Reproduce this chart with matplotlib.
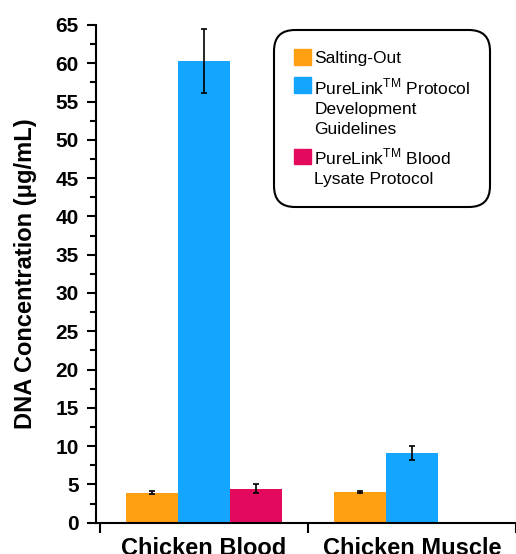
import numpy as np
import matplotlib
matplotlib.use('Agg')
import matplotlib.pyplot as plt
from matplotlib.ticker import MultipleLocator
from matplotlib.patches import Patch, Rectangle
from matplotlib.legend_handler import HandlerPatch

plt.rcParams['font.family'] = ['Liberation Sans', 'DejaVu Sans']
plt.rcParams['mathtext.fontset'] = 'custom'
plt.rcParams['mathtext.rm'] = 'Liberation Sans'

# данные
categories = ['Chicken Blood', 'Chicken Muscle']
series = ['Salting-Out',
          'PureLink$^{\\mathrm{TM}}$ Protocol\nDevelopment\nGuidelines',
          'PureLink$^{\\mathrm{TM}}$ Blood\nLysate Protocol']
salting_out = [3.9, 4.0]
salting_out_err = [0.2, 0.15]
purelink_dev = [60.3, 9.1]
purelink_dev_err = [4.2, 0.95]
purelink_blood = [4.45, np.nan]
purelink_blood_err = [0.55, np.nan]
colors = ['#FF9F12', '#14A5FF', '#E30A5E']

fig = plt.figure(figsize=(5.16, 5.54), dpi=100)
ax = fig.add_axes([0.186, 0.0565, 0.814, 0.8985])

x = np.arange(1, len(categories) + 1)
w = 0.25
vals = [salting_out, purelink_dev, purelink_blood]
errs = [salting_out_err, purelink_dev_err, purelink_blood_err]
for i, (v, e) in enumerate(zip(vals, errs)):
    ax.bar(x + (i - 1) * w, v, w, color=colors[i],
           yerr=e, error_kw=dict(ecolor='black', elinewidth=1.2, capsize=2, capthick=1.2))

ax.set_xlim(0.48, 2.47)
ax.set_ylim(0, 65)
ax.yaxis.set_major_locator(MultipleLocator(5))
ax.yaxis.set_minor_locator(MultipleLocator(2.5))
ax.set_xticks(x)
ax.set_xticklabels(categories, fontsize=17, fontweight='bold')
ax.set_xticks([0.5, 1.5, 2.5], minor=True)
ax.tick_params(axis='x', which='major', length=0, pad=10)
ax.tick_params(axis='x', which='minor', length=7, width=1.5)
ax.tick_params(axis='y', which='major', length=6.5, width=1.5, labelsize=15, pad=6)
ax.tick_params(axis='y', which='minor', length=4.5, width=1.5)
for lab in ax.get_yticklabels():
    lab.set_fontweight('bold')

for s in ['top', 'right']:
    ax.spines[s].set_visible(False)
for s in ['left', 'bottom']:
    ax.spines[s].set_linewidth(1.5)

ax.set_ylabel('DNA Concentration (μg/mL)', fontsize=17, fontweight='bold', labelpad=13)

LINE = 1.4


# квадратик легенды на уровне первой строки подписи
def top_handler(nlines):
    def make(legend, orig_handle, xdescent, ydescent, width, height, fontsize):
        shift = (nlines - 1) / 2 * LINE * 0.88 * fontsize
        return Rectangle((-xdescent, -ydescent + shift), width, height)
    return HandlerPatch(patch_func=make)


handles = [Patch(color=c) for c in colors]
hmap = {h: top_handler(lab.count('\n') + 1) for h, lab in zip(handles, series)}
leg = ax.legend(handles, series, handler_map=hmap,
                loc='upper right', bbox_to_anchor=(0.938, 0.99), borderaxespad=0,
                fontsize=12.5, frameon=True, fancybox=True, edgecolor='black',
                framealpha=1, handlelength=0.98, handleheight=0.98, handletextpad=0.2,
                labelspacing=0.6, borderpad=1.12)
for t in leg.get_texts():
    t.set_linespacing(LINE)
leg.get_frame().set_linewidth(1.5)
leg.get_frame().set_boxstyle('round,pad=0,rounding_size=1.2')

fig.savefig('out.png', dpi=100)
